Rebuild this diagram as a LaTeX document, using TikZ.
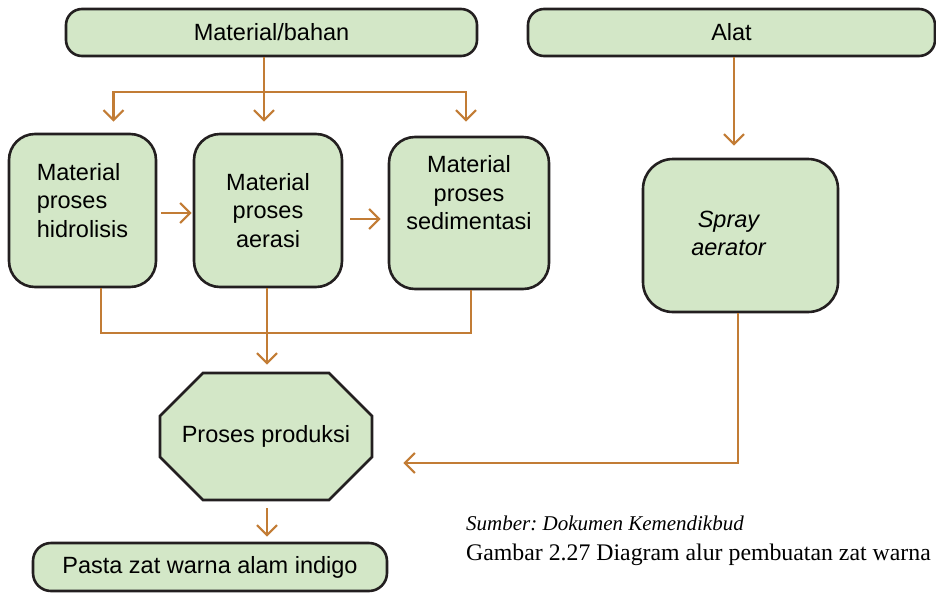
\documentclass[tikz,border=0pt]{standalone}
\usepackage{fontspec}
\setmainfont{Liberation Sans}
\newfontfamily\capfont{Liberation Serif}
\usetikzlibrary{arrows.meta,shapes.misc}
\definecolor{boxfill}{RGB}{211,231,199}
\definecolor{boxline}{RGB}{35,31,32}
\definecolor{flowline}{RGB}{194,124,53}
\frenchspacing

\begin{document}
\begin{tikzpicture}[
    x=1pt, y=-1pt,
    box/.style={
        draw=boxline,
        fill=boxfill,
        line width=2.6pt,
        rounded corners=16pt,
        inner sep=0pt,
        align=center,
        font=\fontsize{23.5}{28.5}\selectfont
    },
    tallbox/.style={
        box,
        rounded corners=26pt
    },
    octobox/.style={
        box,
        sharp corners,
        chamfered rectangle,
        chamfered rectangle xsep=32pt,
        chamfered rectangle ysep=32pt
    },
    flow/.style={
        draw=flowline,
        line width=2.2pt,
        -{Straight Barb[length=10pt,width=20pt]}
    },
    link/.style={
        draw=flowline,
        line width=2.2pt
    },
    caption/.style={
        anchor=base west,
        inner sep=0pt
    }
]
\useasboundingbox (0,0) rectangle (936,592);

% top row
\node[box, minimum width=411pt, minimum height=47pt] (bahan) at (271.5,32.5) {Material/bahan};
\node[box, minimum width=407pt, minimum height=47pt] (alat) at (731.5,32.5) {Alat};

% process boxes
\node[tallbox, minimum width=147pt, minimum height=153pt, align=left] (hidro) at (82.5,210.5) {Material\\proses\\hidrolisis\\[-16.5pt]\strut};
\node[tallbox, minimum width=148pt, minimum height=153pt] (aerasi) at (268,210.5) {Material\\proses\\aerasi};
\node[tallbox, minimum width=160pt, minimum height=152pt] (sedi) at (469,213) {Material\\proses\\sedimentasi\\[3pt]\strut};
\node[tallbox, rounded corners=30pt, minimum width=195pt, minimum height=153pt,
      font=\fontsize{23.5}{28}\selectfont\itshape] (spray) at (740.5,235.5)
      {\begin{tabular}{@{}c@{}}Spray\\aerator\end{tabular}\hspace*{24pt}};

% production and product
\node[octobox, minimum width=212pt, minimum height=127pt] (prod) at (266,436.5) {Proses produksi};
\node[box, rounded corners=18pt, minimum width=354pt, minimum height=48pt] (pasta) at (210,567) {Pasta zat warna alam indigo};

% branch points
\coordinate (split) at (264,92);
\coordinate (merge) at (267,333);

% material flow
\draw[link] (bahan.south -| split) -- (split);
\draw[flow, shorten >=11pt] (split) -| ([xshift=31pt]hidro.north);
\draw[flow, shorten >=11pt] (split) -- (split |- aerasi.north);
\draw[flow, shorten >=14pt] (split) -| ([xshift=-3pt]sedi.north);

\draw[flow, shorten <=4pt, shorten >=1pt] ([yshift=-2.5pt]hidro.east) -- ([yshift=-2.5pt]hidro.east -| aerasi.west);
\draw[flow, shorten <=7pt, shorten >=7pt] ([yshift=-8.5pt]aerasi.east) -- ([yshift=-8.5pt]aerasi.east -| sedi.west);

\draw[link] ([xshift=18.5pt]hidro.south) |- (merge) -| ([xshift=2pt]sedi.south);
\draw[flow, shorten >=7pt] (aerasi.south -| merge) -- (merge |- prod.north);

% tool flow
\draw[flow, shorten >=12pt] ([xshift=2.5pt]alat.south) -- ([xshift=2.5pt]alat.south |- spray.north);
\draw[flow, shorten >=30pt] ([xshift=-2.5pt]spray.south) |- ([yshift=-26.5pt]prod.east);

\draw[flow, shorten <=7pt, shorten >=5pt] ([xshift=1pt]prod.south) -- ([xshift=1pt]prod.south |- pasta.north);

% caption
\node[caption, font=\capfont\itshape\fontsize{21}{25}\selectfont] (sumber) at (466,530) {Sumber: Dokumen Kemendikbud};
\node[caption, font=\capfont\fontsize{23.8}{28}\selectfont] (gambar) at (466,560) {Gambar 2.27 Diagram alur pembuatan zat warna};

\end{tikzpicture}
\end{document}
